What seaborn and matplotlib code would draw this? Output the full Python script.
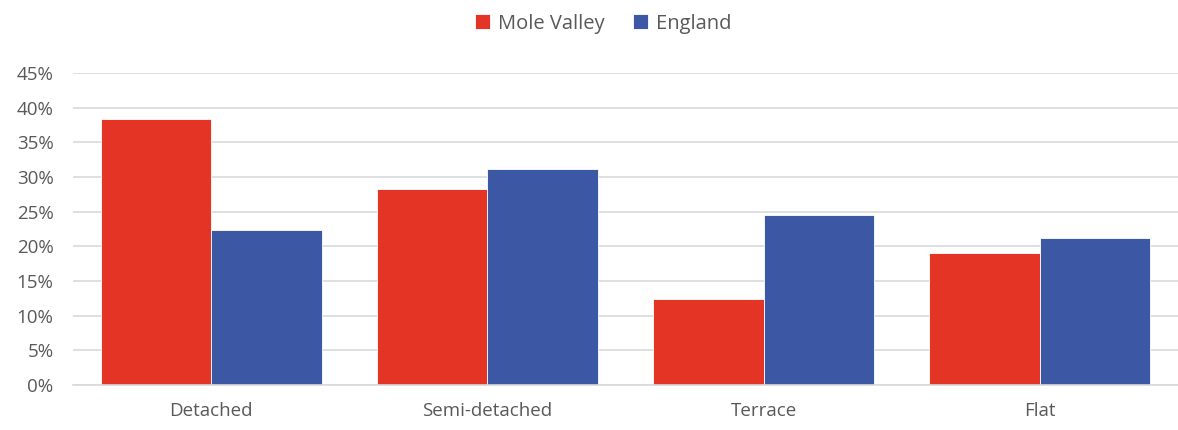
import matplotlib
matplotlib.use("Agg")
import matplotlib.pyplot as plt
import seaborn as sns
import pandas as pd
from matplotlib.ticker import PercentFormatter

categories = ["Detached", "Semi-detached", "Terrace", "Flat"]
mole_valley = [0.384, 0.283, 0.124, 0.190]
england = [0.224, 0.312, 0.245, 0.212]
series = ["Mole Valley", "England"]
colors = ["#E33425", "#3C57A3"]

df = pd.DataFrame({
    "category": categories * 2,
    "value": mole_valley + england,
    "area": [series[0]] * len(categories) + [series[1]] * len(categories),
})

sns.set_theme(style="white")
plt.rcParams["font.family"] = ["Open Sans", "DejaVu Sans"]

fig = plt.figure(figsize=(11.78, 4.30), dpi=100)
ax = fig.add_axes([0.062, 0.1047, 0.938, 0.7256])

sns.barplot(data=df, x="category", y="value", hue="area", palette=colors,
            width=0.8, edgecolor="white", linewidth=0.6, ax=ax, saturation=1)

ax.set_ylim(0, 0.45)
ax.set_yticks([i * 0.05 for i in range(10)])
ax.yaxis.set_major_formatter(PercentFormatter(1.0, decimals=0))
ax.grid(axis="y", color="#D9D9D9", linewidth=1.2)
ax.set_axisbelow(True)
for s in ["top", "right", "left"]:
    ax.spines[s].set_visible(False)
ax.spines["bottom"].set_color("#D9D9D9")
ax.spines["bottom"].set_linewidth(1.2)
ax.set_xlabel("")
ax.set_ylabel("")
ax.tick_params(axis="both", length=0, labelsize=13.5, labelcolor="#595959")
ax.tick_params(axis="y", pad=14)
ax.tick_params(axis="x", pad=12)

handles, labels = ax.get_legend_handles_labels()
ax.legend(handles, labels, loc="upper center", bbox_to_anchor=(0.512, 1.01),
          bbox_transform=fig.transFigure, ncol=2, frameon=False, fontsize=14.5,
          handlelength=0.75, handleheight=0.75, columnspacing=1.4, handletextpad=0.4,
          labelcolor="#595959")

fig.savefig("out.png", dpi=100)
